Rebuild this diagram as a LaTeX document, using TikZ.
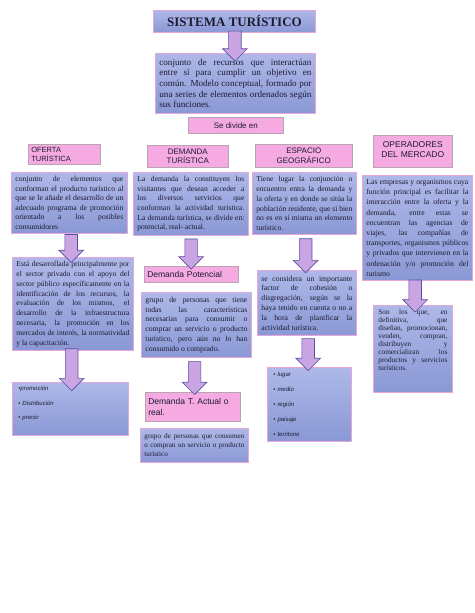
\documentclass[tikz,border=0pt]{standalone}
\usepackage{fontspec}
\setmainfont{Liberation Serif}
\newfontfamily\headfont{Liberation Sans}
\usetikzlibrary{shapes.arrows,calc}
\definecolor{blutop}{HTML}{AEB8E8}
\definecolor{blubot}{HTML}{8A98D5}
\definecolor{boxedge}{HTML}{E6A6D8}
\definecolor{pinkfill}{HTML}{F6AAE2}
\definecolor{pinkedge}{HTML}{B8A4B2}
\definecolor{arrowfill}{HTML}{C9A5E3}
\definecolor{arrowedge}{HTML}{5C4EA0}
\definecolor{ink}{HTML}{1C1C30}
\tolerance=9999
\hyphenpenalty=10000
\emergencystretch=3em
\begin{document}
\begin{tikzpicture}[
      x=1pt, y=-1pt,
      every node/.style={text=ink},
      bluebox/.style={rectangle, draw=boxedge, line width=0.8pt, top color=blutop, bottom color=blubot, anchor=north west, inner sep=4pt, align=justify},
      titlebox/.style={bluebox, align=center, font=\bfseries\fontsize{13}{15}\selectfont},
      pinkbox/.style={rectangle, draw=pinkedge, fill=pinkfill, line width=0.6pt, anchor=north west, inner sep=3pt, font=\headfont\fontsize{8}{9.5}\selectfont},
      bullets/.style={bluebox, align=left, inner xsep=6pt, inner ysep=4pt, font=\headfont\itshape\fontsize{6}{14.5}\selectfont},
      fatarrow/.style={single arrow, shape border rotate=270, draw=arrowedge, fill=arrowfill, line width=0.6pt, inner sep=6pt, minimum width=24pt, single arrow head extend=6pt}
  ]
    \fill[white] (0,0) rectangle (474,613);
    \useasboundingbox (0,0) rectangle (474,613);

    \node[titlebox, minimum width=162pt, minimum height=22pt] (title) at (153,10) {SISTEMA TURÍSTICO};
    \node[bluebox, text width=152pt, minimum height=60pt, font=\fontsize{9.1}{10.7}\selectfont] (defbox) at (155,53) {conjunto de recursos que interactúan\linebreak entre sí para cumplir un objetivo en\linebreak común. Modelo conceptual, formado por\linebreak una series de elementos ordenados según\linebreak sus funciones.};
    \node[pinkbox, minimum width=95pt, minimum height=16pt] (divide) at (188,117) {Se divide en};

    \node[pinkbox, text width=66pt, minimum height=20pt, align=left, font=\headfont\fontsize{7.5}{9}\selectfont] (oferta) at (28,144) {OFERTA\\TURÍSTICA};
    \node[pinkbox, text width=75pt, minimum height=22pt, align=center] (demanda) at (147,145) {DEMANDA\\TURÍSTICA};
    \node[pinkbox, text width=91pt, minimum height=23pt, align=center] (espacio) at (255,144) {ESPACIO\\GEOGRÁFICO};
    \node[pinkbox, text width=73pt, minimum height=32pt, align=center, font=\headfont\fontsize{8.5}{10.5}\selectfont] (operadores) at (373,135) {OPERADORES\\DEL MERCADO\par\vspace*{3pt}};

    \node[bluebox, text width=108pt, minimum height=58pt, font=\fontsize{7.7}{9.5}\selectfont] (ofdesc) at (11,172) {conjunto de elementos que\linebreak conforman el producto turístico al\linebreak que se le añade el desarrollo de un\linebreak adecuado programa de promoción\linebreak orientado a los posibles\linebreak consumidores};
    \node[bluebox, text width=107pt, minimum height=61pt, font=\fontsize{7.6}{9.6}\selectfont] (demdesc) at (133,172) {La demanda la constituyen los\linebreak visitantes que desean acceder a\linebreak los diversos servicios que\linebreak conforman la actividad turística.\linebreak La demanda turística, se divide en:\linebreak potencial, real- actual.};
    \node[bluebox, text width=96pt, minimum height=61pt, font=\fontsize{7.6}{9.8}\selectfont] (espdesc) at (252,172) {Tiene lugar la conjunción o\linebreak encuentro entra la demanda y\linebreak la oferta y en donde se sitúa la\linebreak población residente, que si bien\linebreak no es en sí misma un elemento\linebreak turístico.};
    \node[bluebox, text width=102pt, minimum height=95pt, font=\fontsize{7.7}{10.2}\selectfont] (opdesc) at (362,175) {Las empresas y organismos cuya\linebreak función principal es facilitar la\linebreak interacción entre la oferta y la\linebreak demanda, entre estas se\linebreak encuentran las agencias de\linebreak viajes, las compañías de\linebreak transportes, organismos públicos\linebreak y privados que intervienen en la\linebreak ordenación y/o promoción del\linebreak turismo};

    \node[bluebox, text width=113pt, minimum height=83pt, font=\fontsize{7.6}{9.8}\selectfont] (ofmore) at (12,257) {Está desarrollada principalmente por\linebreak el sector privado con el apoyo del\linebreak sector público específicamente en la\linebreak identificación de los recursos, la\linebreak evaluación de los mismos, el\linebreak desarrollo de la infraestructura\linebreak necesaria, la promoción en los\linebreak mercados de interés, la normatividad\linebreak y la capacitación.};
    \node[pinkbox, text width=88pt, minimum height=16pt, align=left, font=\headfont\fontsize{8.5}{10}\selectfont] (potencial) at (144,266) {Demanda Potencial};
    \node[bluebox, text width=102pt, minimum height=65pt, font=\fontsize{7.7}{9.8}\selectfont] (potdesc) at (141,292) {grupo de personas que tiene\linebreak todas las características\linebreak necesarias para consumir o\linebreak comprar un servicio o producto\linebreak turístico, pero aún no lo han\linebreak consumido o comprado.};
    \node[bluebox, text width=91pt, minimum height=65pt, font=\fontsize{7.7}{9.8}\selectfont] (espmore) at (257,270) {se considera un importante\linebreak factor de cohesión o\linebreak disgregación, según se la\linebreak haya tenido en cuenta o no a\linebreak la hora de planificar la\linebreak actividad turística.};
    \node[bluebox, text width=69pt, inner xsep=5pt, minimum height=87pt, font=\fontsize{7.3}{8}\selectfont] (opmore) at (373,305) {Son los que, en\linebreak definitiva, que\linebreak diseñan, promocionan,\linebreak venden, compran,\linebreak distribuyen y\linebreak comercializan los\linebreak productos y servicios\linebreak turísticos.\par\vspace*{18pt}};

    \node[bullets, text width=104pt, minimum height=53pt] (ofbul) at (12,382) {•\textit{promoción}\\• \textit{Distribución}\\• \textit{precio}\par\vspace*{10pt}};
    \node[pinkbox, text width=89pt, minimum height=29pt, align=left, font=\headfont\fontsize{8.5}{11}\selectfont] (actual) at (145,392) {Demanda T. Actual o\\real.};
    \node[bluebox, text width=100pt, minimum height=34pt, font=\fontsize{7.2}{9}\selectfont] (actdesc) at (140,428) {grupo de personas que consumen\linebreak o compran un servicio o producto\linebreak turístico};
    \node[bullets, text width=72pt, minimum height=74pt, font=\headfont\itshape\fontsize{6}{15}\selectfont] (espbul) at (267,367) {• \textit{lugar}\\• \textit{medio}\\• \textit{región}\\• \textit{paisaje}\\• \textit{territorio}};

    \node[fatarrow, minimum height=30pt] (a0) at ($(title.south)!.5!(defbox.north)$) {};
    \node[fatarrow, minimum height=28pt] (a1) at ($(ofdesc.south)!.5!(ofmore.north)$) {};
    \node[fatarrow, minimum height=42pt] (a2) at ($(ofmore.south)!.5!(ofbul.north)$) {};
    \node[fatarrow, minimum height=30pt] (a3) at ($(demdesc.south)!.5!(potencial.north)$) {};
    \node[fatarrow, minimum height=33pt] (a4) at ($(potdesc.south)!.5!(actual.north)$) {};
    \node[fatarrow, minimum height=34pt] (a5) at ($(espdesc.south)!.5!(espmore.north)$) {};
    \node[fatarrow, minimum height=32pt] (a6) at ($(espmore.south)!.5!(espbul.north)$) {};
    \node[fatarrow, minimum height=32pt] (a7) at ($(opdesc.south)!.5!(opmore.north)$) {};
  \end{tikzpicture}
\end{document}
